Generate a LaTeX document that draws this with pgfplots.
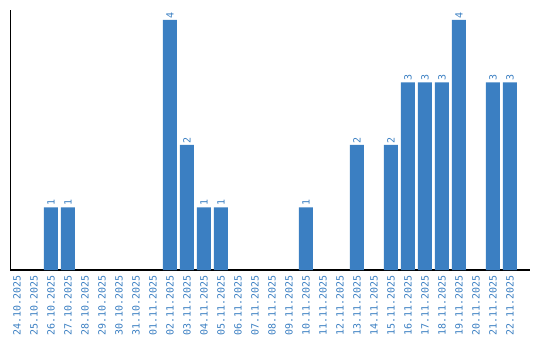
\documentclass[border=0pt]{standalone}
\usepackage{pgfplots}
\pgfplotsset{compat=1.18}
\usepackage{fontspec}
\setmainfont{DejaVu Sans Mono}
\definecolor{barblue}{RGB}{59,127,194}
\begin{document}
\begin{tikzpicture}
\path[use as bounding box] (0,0) rectangle (540bp,340bp);
\begin{axis}[
  at={(10bp,70bp)}, anchor=south west,
  scale only axis, width=520bp, height=260bp,
  xmin=-0.41, xmax=30.18, ymin=0, ymax=4.16,
  axis x line=bottom, axis y line=left,
  x axis line style={-, line width=1.3bp, black},
  y axis line style={-, line width=1bp, black},
  ytick=\empty,
  xtick={0,...,29},
  xticklabels={24.10.2025,25.10.2025,26.10.2025,27.10.2025,28.10.2025,29.10.2025,30.10.2025,31.10.2025,01.11.2025,02.11.2025,03.11.2025,04.11.2025,05.11.2025,06.11.2025,07.11.2025,08.11.2025,09.11.2025,10.11.2025,11.11.2025,12.11.2025,13.11.2025,14.11.2025,15.11.2025,16.11.2025,17.11.2025,18.11.2025,19.11.2025,20.11.2025,21.11.2025,22.11.2025},
  major tick length=0pt,
  xticklabel style={rotate=90, anchor=east, font=\fontsize{10}{10}\selectfont, text=barblue, inner xsep=0pt, inner ysep=0pt},
  xticklabel shift=5bp,
  ybar, bar width=14bp,
  /pgf/number format/assume math mode=true,
  nodes near coords={\fontsize{10}{10}\selectfont\pgfmathprintnumber{\pgfplotspointmeta}},
  nodes near coords style={rotate=90, anchor=west, text=barblue, inner xsep=1.5bp, inner ysep=0pt},
  clip=false,
]
\addplot[fill=barblue, draw=none] coordinates {
  (2,1) (3,1) (9,4) (10,2) (11,1) (12,1) (17,1) (20,2) (22,2) (23,3) (24,3) (25,3) (26,4) (28,3) (29,3)
};
\end{axis}
\end{tikzpicture}
\end{document}
